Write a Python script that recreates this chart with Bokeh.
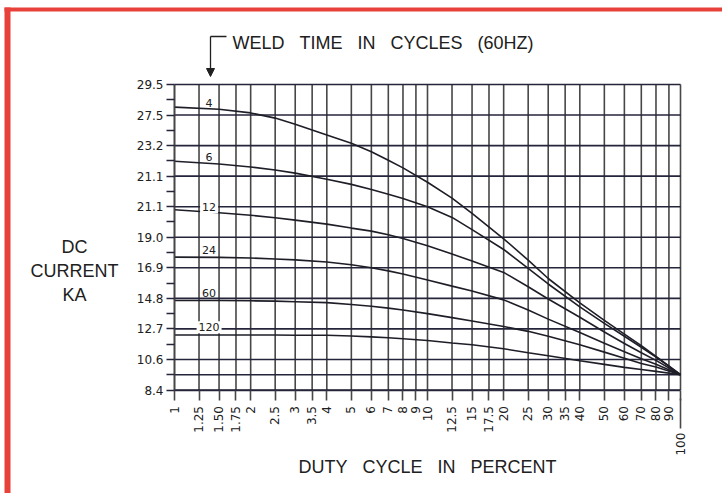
import math
from bokeh.plotting import figure
from bokeh.models import (FixedTicker, Range1d, ColumnDataSource, Label, Arrow,
                          NormalHead, BoxAnnotation, LinearAxis, LogAxis)
from bokeh.core.properties import value
from bokeh.embed import file_html
from bokeh.resources import INLINE

# ---------------- data ----------------
x_ticks = [1, 1.25, 1.5, 1.75, 2, 2.5, 3, 3.5, 4, 5, 6, 7, 8, 9, 10, 12.5, 15, 17.5,
           20, 25, 30, 35, 40, 50, 60, 70, 80, 90, 100]
x_tick_labels = ["1", "1.25", "1.50", "1.75", "2", "2.5", "3", "3.5", "4", "5", "6", "7",
                 "8", "9", "10", "12.5", "15", "17.5", "20", "25", "30", "35", "40", "50",
                 "60", "70", "80", "90", "100"]
y_positions = [0, 1, 2, 3, 4, 5, 6, 7, 8, 9, 10]
y_tick_labels = ["8.4", "10.6", "12.7", "14.8", "16.9", "19.0", "21.1", "21.1", "23.2",
                 "27.5", "29.5"]
y_extra_line = [0.5]

duty = [1, 1.5, 2, 2.5, 3, 4, 5, 6, 7, 8, 10, 12.5, 15, 20, 25, 30, 40, 50, 60, 70, 80, 100]
cur_4 = [9.26, 9.19, 9.07, 8.9, 8.7, 8.35, 8.08, 7.8, 7.52, 7.27, 6.8, 6.28, 5.78, 4.95,
         4.25, 3.65, 2.85, 2.28, 1.83, 1.45, 1.1, 0.5]
cur_6 = [7.49, 7.4, 7.3, 7.2, 7.1, 6.9, 6.73, 6.56, 6.41, 6.27, 6.0, 5.65, 5.25, 4.6,
         3.98, 3.47, 2.72, 2.18, 1.76, 1.4, 1.08, 0.5]
cur_12 = [5.9, 5.8, 5.72, 5.64, 5.56, 5.43, 5.3, 5.2, 5.08, 4.96, 4.72, 4.45, 4.22, 3.85,
          3.38, 2.98, 2.38, 1.9, 1.52, 1.22, 0.97, 0.5]
cur_24 = [4.35, 4.34, 4.32, 4.29, 4.26, 4.19, 4.1, 4.0, 3.9, 3.8, 3.6, 3.4, 3.24, 2.95,
          2.62, 2.32, 1.88, 1.53, 1.25, 1.02, 0.84, 0.5]
cur_60 = [2.93, 2.93, 2.92, 2.91, 2.89, 2.86, 2.8, 2.74, 2.68, 2.62, 2.5, 2.37, 2.26, 2.08,
          1.92, 1.76, 1.48, 1.24, 1.04, 0.87, 0.75, 0.5]
cur_120 = [1.8, 1.8, 1.8, 1.8, 1.79, 1.79, 1.77, 1.74, 1.71, 1.68, 1.62, 1.54, 1.48, 1.35,
           1.22, 1.12, 0.96, 0.84, 0.74, 0.67, 0.61, 0.5]
curves = [cur_4, cur_6, cur_12, cur_24, cur_60, cur_120]

weld_labels = ["4", "6", "12", "24", "60", "120"]
weld_label_x = [1.37, 1.37, 1.37, 1.37, 1.37, 1.37]
weld_label_y = [9.41, 7.62, 5.98, 4.57, 3.19, 2.05]
weld_label_bg = [0, 0, 1, 0, 0, 1]

SP = "\u00a0\u00a0\u00a0"
title_text = SP.join(["WELD", "TIME", "IN", "CYCLES", "(60HZ)"])
xlabel_text = SP.join(["DUTY", "CYCLE", "IN", "PERCENT"])
ylabel_text = "DC\nCURRENT\nKA"

# ---------------- layout (pixel geometry of the grid) ----------------
W, H = 722, 493
GX0, DEC = 174.0, 253.0       # pixel of duty 1 %, pixels per decade
GY0, STEP = 389.5, 30.55      # pixel of grid row 0, pixels per row


def px2x(px):
    return 10 ** ((px - GX0) / DEC)


def py2y(py):
    return (GY0 - py) / STEP


HCOL = "#24243a"
VCOL = "#474747"
LCOL = "#1e1e28"
TXT = "#202020"
RED = "#e8413a"
FONT = "DejaVu Sans"
TFONT = "Liberation Sans"

p = figure(width=W, height=H, x_axis_type="log",
           x_range=Range1d(px2x(0), px2x(W)), y_range=Range1d(py2y(H), py2y(0)),
           x_axis_location=None, y_axis_location=None,
           output_backend="svg", toolbar_location=None,
           min_border_left=0, min_border_right=0, min_border_top=0, min_border_bottom=0)
p.background_fill_color = "white"
p.border_fill_color = "white"
p.outline_line_color = None
p.xgrid.visible = False
p.ygrid.visible = False

# ---------------- grid lines ----------------
n = len(x_ticks)
p.segment(x0=x_ticks, y0=[y_positions[0]] * n, x1=x_ticks, y1=[y_positions[-1]] * n,
          line_color=VCOL, line_width=1.6)
hy = y_positions + y_extra_line
m = len(hy)
p.segment(x0=[x_ticks[0]] * m, y0=hy, x1=[x_ticks[-1]] * m, y1=hy,
          line_color=HCOL, line_width=1.6)
# longer tick under 100
p.segment(x0=[x_ticks[-1]], y0=[py2y(398)], x1=[x_ticks[-1]], y1=[py2y(428)],
          line_color=VCOL, line_width=1.6)

# ---------------- axes ----------------
yax = LinearAxis(fixed_location=x_ticks[0], bounds=(y_positions[0], y_positions[-1]))
yax.ticker = FixedTicker(ticks=y_positions, minor_ticks=[v + 0.5 for v in y_positions[:-1]])
yax.major_label_overrides = {v: s for v, s in zip(y_positions, y_tick_labels)}
yax.major_label_text_font = FONT
yax.major_label_text_font_size = "12px"
yax.major_label_text_color = TXT
yax.major_label_standoff = 3
yax.major_tick_out = 8
yax.major_tick_in = 0
yax.minor_tick_out = 8
yax.minor_tick_in = 0
yax.major_tick_line_color = HCOL
yax.minor_tick_line_color = HCOL
yax.major_tick_line_width = 1.6
yax.minor_tick_line_width = 1.6
yax.axis_line_color = VCOL
yax.axis_line_width = 1.6
p.add_layout(yax, "left")

x_overrides = {v: s for v, s in zip(x_ticks, x_tick_labels)}
x_overrides[100] = "100" + "\u00a0" * 7
xax = LogAxis(fixed_location=y_positions[0], bounds=(x_ticks[0], x_ticks[-1]))
xax.ticker = FixedTicker(ticks=x_ticks, minor_ticks=[])
xax.major_label_overrides = x_overrides
xax.major_label_orientation = math.pi / 2
xax.major_label_text_font = FONT
xax.major_label_text_font_size = "12px"
xax.major_label_text_color = TXT
xax.major_label_standoff = 6
xax.major_tick_out = 10
xax.major_tick_in = 0
xax.major_tick_line_color = VCOL
xax.major_tick_line_width = 1.6
xax.axis_line_color = HCOL
xax.axis_line_width = 1.6
xax.axis_label = xlabel_text
xax.axis_label_text_font = TFONT
xax.axis_label_text_font_size = "18px"
xax.axis_label_text_font_style = "normal"
xax.axis_label_text_color = TXT
xax.axis_label_standoff = -2
p.add_layout(xax, "below")

# ---------------- curves ----------------
for c in curves:
    p.line(duty, c, line_color=LCOL, line_width=1.6)

src = ColumnDataSource(dict(x=weld_label_x, y=weld_label_y, t=weld_labels, bg=weld_label_bg))
p.text(x="x", y="y", text="t", source=src, text_align="center", text_baseline="middle",
       text_font=value(FONT), text_font_size="11px", text_color=TXT,
       background_fill_color="white", background_fill_alpha="bg", padding=2)

# ---------------- title, bracket arrow, y label ----------------
p.add_layout(Label(x=px2x(232), y=py2y(42), text=title_text, text_align="left",
                   text_baseline="middle", text_font=TFONT, text_font_size="18px",
                   text_color=TXT))
p.add_layout(Arrow(end=None, x_start=px2x(210), y_start=py2y(36), x_end=px2x(226),
                   y_end=py2y(36), line_color=TXT, line_width=1.3))
p.add_layout(Arrow(end=NormalHead(size=8, fill_color=TXT, line_color=TXT, line_width=1),
                   x_start=px2x(210), y_start=py2y(36), x_end=px2x(210), y_end=py2y(76),
                   line_color=TXT, line_width=1.3))
p.add_layout(Label(x=px2x(74), y=py2y(270), text=ylabel_text, text_align="center",
                   text_baseline="middle", text_font=TFONT, text_font_size="18px",
                   text_color=TXT, text_line_height=1.2))

# ---------------- red frame (left and top) ----------------
p.add_layout(BoxAnnotation(left=px2x(4), right=px2x(10), bottom=None, top=py2y(7),
                           fill_color=RED, fill_alpha=1, line_alpha=0))
p.add_layout(BoxAnnotation(left=px2x(4), right=None, bottom=py2y(11), top=py2y(7),
                           fill_color=RED, fill_alpha=1, line_alpha=0))

open("out.html", "w").write(file_html(p, INLINE))
